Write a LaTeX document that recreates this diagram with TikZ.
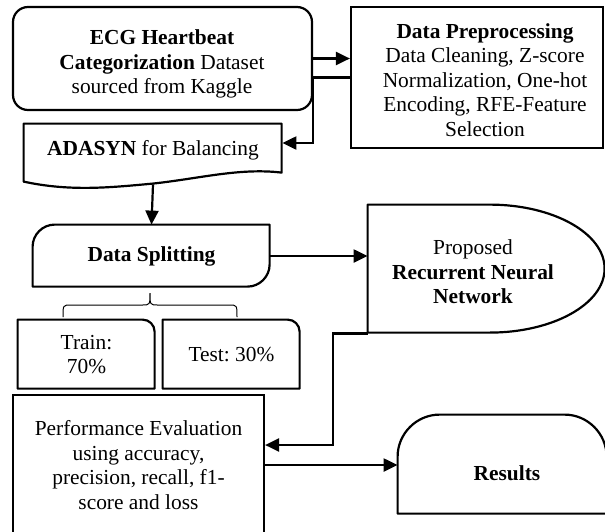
\documentclass[tikz,border=0pt]{standalone}
\usepackage{fontspec}
\setmainfont{Liberation Serif}
\usetikzlibrary{
    positioning,   % relative placement
    arrows.meta,   % Triangle arrowheads
    calc           % offsets from anchors
}
\frenchspacing

\begin{document}
\begin{tikzpicture}[x=0.5pt, y=-0.5pt,
        font=\fontsize{10.7}{12.2}\selectfont,
        box/.style={draw, line width=1.1pt, align=center, inner sep=0pt},
        shapebox/.style={align=center, inner sep=0pt},
        txt/.style={align=center, inner sep=0pt},
        outline/.style={line width=1.1pt, line join=round},
        arr/.style={line width=1.1pt, -{Triangle[length=7pt,width=6.5pt]}},
        bracestyle/.style={line width=0.5pt}]
    \useasboundingbox (0,0) rectangle (605,531);
    \clip (0,0) rectangle (605,531);

    % Dataset
    \node[box, rounded corners=7.5pt, minimum width=149.5pt, minimum height=51.5pt] (ecg) at (162.5,58.5) {};
    \node[txt] (ecgtxt) at (162,64)
        {\textbf{ECG Heartbeat}\\\textbf{Categorization} Dataset\\sourced from Kaggle};

    % Preprocessing
    \node[box, minimum width=126pt, minimum height=70.5pt] (prep) at (477,77.5) {};
    \node[txt] (preptxt) at (485,80)
        {\textbf{Data Preprocessing}\\Data Cleaning, Z-score\\Normalization, One-hot\\Encoding, RFE-Feature\\Selection};

    % Balancing (document shape)
    \node[shapebox, minimum width=129pt, minimum height=26pt] (ada) at (153,150) {\textbf{ADASYN} for Balancing};
    \draw[outline, shift={(ada.north west)}] (0,0) -- (258,0) -- (258,49)
        .. controls (216,44) and (176,55) .. (129,60)
        .. controls (86,64) and (46,68) .. (0,58) -- cycle;

    % Splitting
    \node[shapebox, minimum width=118.5pt, minimum height=31pt] (split) at (151.5,256) {\textbf{Data Splitting}};
    \draw[outline, shift={(split.north west)}] (0,62) -- (0,22) .. controls (0,10) and (10,0) .. (22,0)
        -- (237,0) -- (237,40) .. controls (237,52) and (227,62) .. (215,62) -- cycle;

    % Brace
    \draw[bracestyle] (63,317) .. controls (63,305) .. (71,305) -- (142,305)
        .. controls (150,305) .. (150,293) .. controls (150,305) .. (158,305)
        -- (229,305) .. controls (237,305) .. (237,317);

    % Train / Test
    \node[shapebox, minimum width=68.5pt, minimum height=34.5pt] (train) at (86.5,354.5) {Train:\\70\%};
    \draw[outline, shift={(train.north west)}] (0,0) -- (125,0) .. controls (131.6,0) and (137,5.4) .. (137,12)
        -- (137,69) -- (0,69) -- cycle;
    \node[shapebox, minimum width=68.5pt, minimum height=34.5pt] (test) at (231.5,354.5) {Test: 30\%};
    \draw[outline, shift={(test.north west)}] (0,0) -- (125,0) .. controls (131.6,0) and (137,5.4) .. (137,12)
        -- (137,69) -- (0,69) -- cycle;

    % Model (delay shape)
    \node[shapebox, minimum width=118.5pt, minimum height=64pt] (rnn) at (486.5,269) {};
    \draw[outline, shift={(rnn.north west)}] (0,0) -- (122,0) .. controls (185.5,0) and (237,28.7) .. (237,64)
        .. controls (237,99.3) and (185.5,128) .. (122,128) -- (0,128) -- cycle;
    \node[txt] (rnntxt) at (473,272) {Proposed\\\textbf{Recurrent Neural}\\\textbf{Network}};

    % Evaluation
    \node[box, minimum width=125.5pt, minimum height=70pt] (perf) at (138.5,465)
        {Performance Evaluation\\using accuracy,\\precision, recall, f1-\\score and loss};

    % Results
    \node[shapebox, minimum width=104.5pt, minimum height=49.5pt] (res) at (502.5,464.5) {};
    \draw[outline, shift={(res.north west)}] (0,99) -- (0,42) .. controls (0,19) and (19,0) .. (42,0)
        -- (167,0) .. controls (190,0) and (209,19) .. (209,42) -- (209,99) -- cycle;
    \node[txt] (restxt) at (507,473) {\textbf{Results}};

    % Connectors
    \draw[arr] (ecg.east) -- (ecg.east -| prep.west);
    \draw[arr] (prep.west) -- ++(-37,0) |- ($(ada.east)+(0,-7)$);
    \draw[arr] ([yshift=-4pt]ada.south) -- (split.north);
    \draw[arr] (split.east) -- (split.east -| rnn.west);
    \draw[arr] (rnn.south west) -- ++(-35,0) |- ($(perf.east)+(0,-20)$);
    \draw[arr] (perf.east) -- (perf.east -| res.west);
\end{tikzpicture}
\end{document}
